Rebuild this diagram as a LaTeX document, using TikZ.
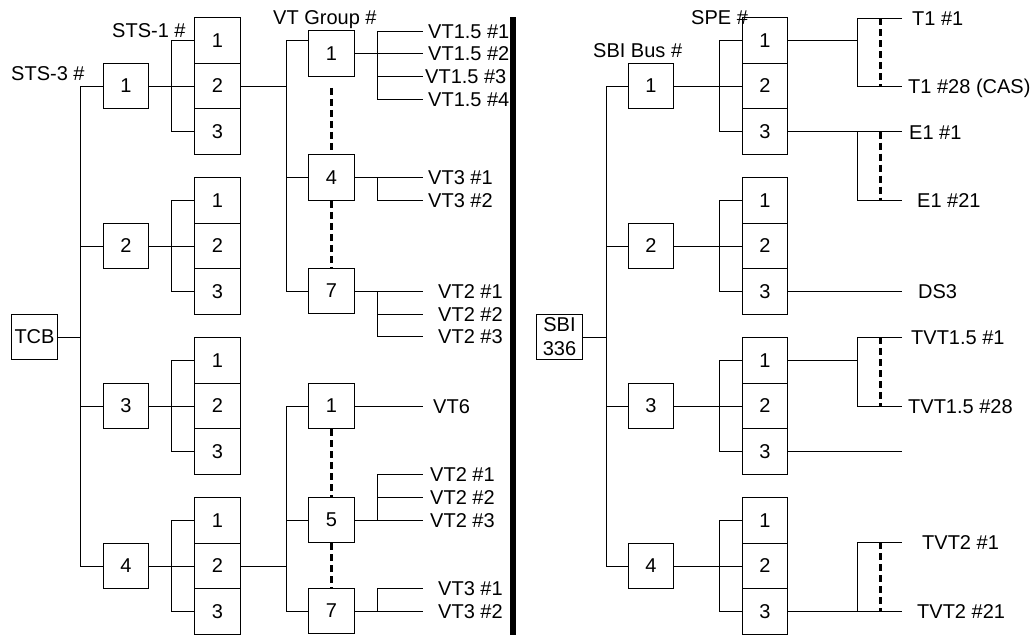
\documentclass[tikz,border=0pt]{standalone}
\usepackage{fontspec}
\setmainfont{Liberation Sans}
\tikzset{
  box/.style={draw,line width=1pt,minimum width=45.5pt,minimum height=45.7pt,inner sep=0pt},
  wire/.style={line width=0.8pt},
  gap/.style={line width=3pt,dash pattern=on 7pt off 4pt},
  lbl/.style={anchor=base west,inner sep=0pt,yshift=-7pt},
}
\begin{document}
\begin{tikzpicture}[x=1pt,y=-1pt,font=\fontsize{20}{24}\selectfont]
  \useasboundingbox (0,0) rectangle (1034,635);
  % left half: TCB, STS-3 and STS-1
  \node[box] (tcb) at (34.5,337) {TCB};
  \coordinate (tbus) at (80,337);
  \draw[wire] (tcb.east) -- (tbus);
  \foreach \i/\y in {1/86,2/246,3/406,4/566}{
    \node[box] (t\i) at (126,\y) {\i};
    \node[box] (s\i1) at (217.5,\y-45.7) {1};
    \node[box] (s\i2) at (217.5,\y) {2};
    \node[box] (s\i3) at (217.5,\y+45.7) {3};
    \draw[wire] (tbus) |- (t\i.west);
    \draw[wire] (t\i.east) -- (s\i2.west);
    \draw[wire] (s\i1.west) -- ++(-23,0) |- (s\i3.west);
  }
  \node[lbl] (hsts3) at (11,73) {STS-3 \#};
  \node[lbl] (hsts1) at (112,30) {STS-1 \#};
  \node[lbl] (hvtg) at (273,17) {VT Group \#};
  % VT groups under STS-1 #2 of STS-3 #1
  \node[box] (ga1) at (331.5,53.5) {1};
  \node[box] (ga4) at (331.5,177.5) {4};
  \node[box] (ga7) at (331.5,291) {7};
  \coordinate (va) at (286,86);
  \draw[wire] (s12.east) -- (va);
  \draw[wire] (va) |- ([yshift=13.5pt]ga1.west);
  \draw[wire] (va) |- (ga4.west);
  \draw[wire] (va) |- (ga7.west);
  \draw[gap] ([yshift=-11pt]ga1.south) -- (ga4.north);
  \draw[gap] (ga4.south) -- (ga7.north);
  \draw[wire] (ga1.east) -- ++(23,0) coordinate (ja);
  \foreach \k/\y/\x in {1/31/428,2/53.5/428,3/76/425,4/99/428}{
    \coordinate (oa\k) at (423,\y);
    \node[lbl] (la\k) at (\x,\y) {VT1.5 \#\k};
    \draw[wire] (ja) |- (oa\k);
  }
  \draw[wire] (ga4.east) -- ++(23,0) coordinate (jb);
  \foreach \k/\y in {1/177.5,2/200}{
    \coordinate (ob\k) at (423,\y);
    \node[lbl] (lb\k) at (428,\y) {VT3 \#\k};
    \draw[wire] (jb) |- (ob\k);
  }
  \draw[wire] (ga7.east) -- ++(23,0) coordinate (jc);
  \foreach \k/\y in {1/291,2/314,3/336.5}{
    \coordinate (oc\k) at (423,\y);
    \node[lbl] (lc\k) at (438,\y) {VT2 \#\k};
    \draw[wire] (jc) |- (oc\k);
  }
  % VT groups under STS-1 #2 of STS-3 #4
  \node[box] (gb1) at (331.5,406) {1};
  \node[box] (gb5) at (331.5,520) {5};
  \node[box] (gb7) at (331.5,611) {7};
  \coordinate (vb) at (286,566);
  \draw[wire] (s42.east) -- (vb);
  \draw[wire] (vb) |- (gb1.west);
  \draw[wire] (vb) |- (gb5.west);
  \draw[wire] (vb) |- (gb7.west);
  \draw[gap] (gb1.south) -- (gb5.north);
  \draw[gap] (gb5.south) -- (gb7.north);
  \coordinate (od1) at (423,406);
  \draw[wire] (gb1.east) -- (od1);
  \node[lbl] (ld1) at (433,406) {VT6};
  \draw[wire] (gb5.east) -- ++(23,0) coordinate (je);
  \foreach \k/\y in {1/474,2/497,3/520}{
    \coordinate (oe\k) at (423,\y);
    \node[lbl] (le\k) at (430,\y) {VT2 \#\k};
    \draw[wire] (je) |- (oe\k);
  }
  \draw[wire] (gb7.east) -- ++(23,0) coordinate (jf);
  \foreach \k/\y in {1/588,2/611}{
    \coordinate (of\k) at (423,\y);
    \node[lbl] (lf\k) at (438,\y) {VT3 \#\k};
    \draw[wire] (jf) |- (of\k);
  }
  % separator
  \fill (510,17) rectangle (516,635);
  % right half: SBI 336, SBI bus and SPE
  \node[box,align=center] (sbi) at (559.5,337) {SBI\\336};
  \coordinate (bbus) at (606,337);
  \draw[wire] (sbi.east) -- (bbus);
  \foreach \i/\y in {1/86,2/246,3/406,4/566}{
    \node[box] (b\i) at (651,\y) {\i};
    \node[box] (p\i1) at (765,\y-45.7) {1};
    \node[box] (p\i2) at (765,\y) {2};
    \node[box] (p\i3) at (765,\y+45.7) {3};
    \draw[wire] (bbus) |- (b\i.west);
    \draw[wire] (b\i.east) -- (p\i2.west);
    \draw[wire] (p\i1.west) -- ++(-22.5,0) |- (p\i3.west);
  }
  \node[lbl] (hbus) at (593,50) {SBI Bus \#};
  \node[lbl] (hspe) at (691,17) {SPE \#};
  % T1 and E1
  \coordinate (r1) at (902,18);
  \coordinate (r2) at (902,86);
  \draw[wire] (p11.east) -- ++(69,0) coordinate (q1);
  \draw[wire] (r1) -| (q1) |- (r2);
  \draw[gap] ([xshift=-22pt]r1) -- ([xshift=-22pt]r2);
  \node[lbl] (lt1) at (912,18) {T1 \#1};
  \node[lbl] (lt2) at (908,86) {T1 \#28 (CAS)};
  \coordinate (r3) at (902,131.7);
  \coordinate (r4) at (902,200);
  \draw[wire] (p13.east) -- (r3);
  \draw[wire] ([xshift=-45pt]r3) |- (r4);
  \draw[gap] ([xshift=-22pt]r3) -- ([xshift=-22pt]r4);
  \node[lbl] (le1) at (909,132) {E1 \#1};
  \node[lbl] (le2) at (917,200) {E1 \#21};
  % DS3
  \coordinate (r5) at (902,291.7);
  \draw[wire] (p23.east) -- (r5);
  \node[lbl] (lds) at (918,291) {DS3};
  % TVT1.5
  \coordinate (r6) at (902,337);
  \coordinate (r7) at (902,406);
  \draw[wire] (p31.east) -- ++(69,0) coordinate (q3);
  \draw[wire] (r6) -| (q3) |- (r7);
  \draw[gap] ([xshift=-22pt]r6) -- ([xshift=-22pt]r7);
  \node[lbl] (lv1) at (911,337) {TVT1.5 \#1};
  \node[lbl] (lv2) at (908,406) {TVT1.5 \#28};
  \coordinate (r8) at (902,451.7);
  \draw[wire] (p33.east) -- (r8);
  % TVT2
  \coordinate (r9) at (902,542);
  \coordinate (r10) at (902,611.7);
  \draw[wire] (p43.east) -- (r10);
  \draw[wire] ([xshift=-45pt]r10) |- (r9);
  \draw[gap] ([xshift=-22pt]r9) -- ([xshift=-22pt]r10);
  \node[lbl] (lw1) at (922,542) {TVT2 \#1};
  \node[lbl] (lw2) at (917,611) {TVT2 \#21};
\end{tikzpicture}
\end{document}
